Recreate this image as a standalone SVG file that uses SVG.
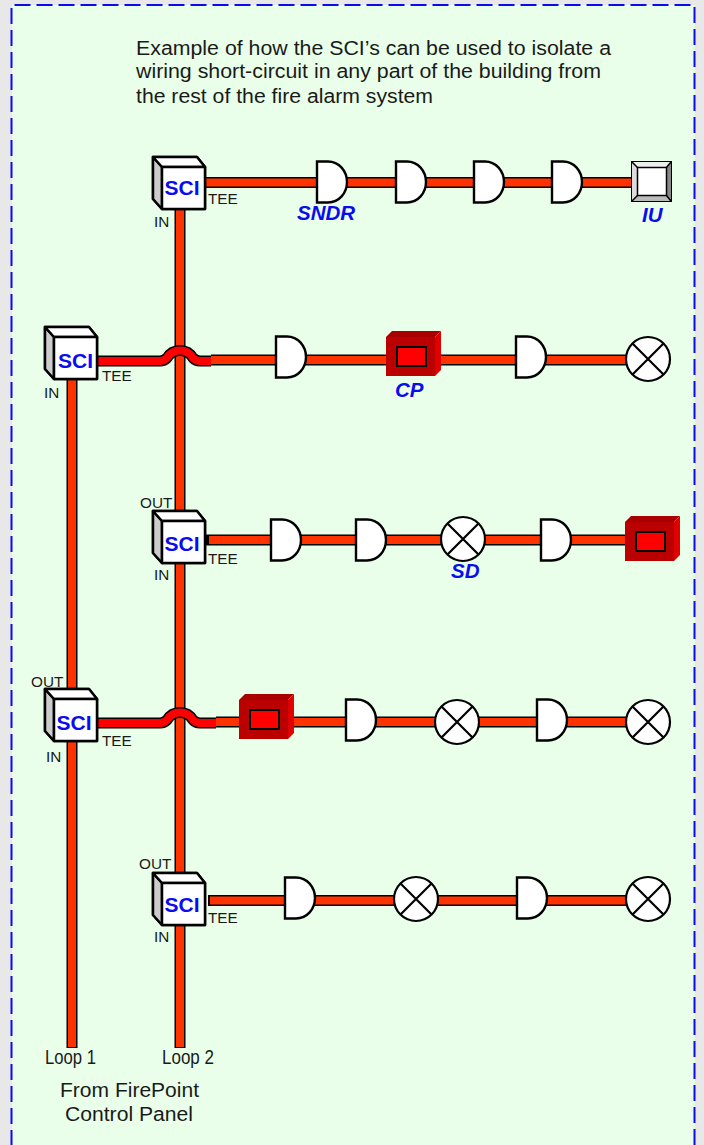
<svg xmlns="http://www.w3.org/2000/svg" xmlns:xlink="http://www.w3.org/1999/xlink" width="704" height="1145" viewBox="0 0 704 1145">
<style>
text{font-family:"Liberation Sans",Arial,sans-serif;fill:#1a1a1a}
.t{font-size:20px}
.s{font-size:15.300px}
.l{font-size:20.500px;font-style:italic;font-weight:bold;fill:#0b0bf0}
.sci{font-size:21px;font-weight:bold;fill:#0b0bf0}
.wb{fill:none;stroke:#000;stroke-width:11}
.wo{fill:none;stroke:#ff3300;stroke-width:8}
.wr{fill:none;stroke:#ff0000;stroke-width:8}
.o{stroke:#000;stroke-width:2.500;stroke-linejoin:round}
</style>
<defs>
<g id="and"><path d="M0,-20.500H11C22,-20.500 30,-11 30,0C30,11 22,20.500 11,20.500H0Z" fill="#fff" stroke="#000" stroke-width="2.400"/></g>
<g id="x"><circle r="22" fill="#fff" stroke="#000" stroke-width="2.200"/><path d="M-15.500,-15.500L15.500,15.500M-15.500,15.500L15.500,-15.500" stroke="#000" stroke-width="2.200"/></g>
<g id="box"><path class="o" d="M-9,-10H35L43,0V42H0L-9,32Z" fill="#fff"/><path class="o" d="M-9,-10L0,0V42L-9,32Z" fill="#ccc"/><path class="o" d="M-9,-10H35L43,0H0Z" fill="#fff"/><rect width="43" height="42" fill="#fff" class="o"/></g>
<g id="cp"><path d="M0,0L6,-6H55L49,0Z" fill="#a80000"/><path d="M49,0L55,-6V33L49,39Z" fill="#e00000"/><rect width="49" height="39" fill="#bb0000"/><rect x="11" y="10" width="29" height="19" fill="#ff0000" stroke="#000" stroke-width="2"/></g>
</defs>
<rect width="704" height="1145" fill="#e8e8e8"/>
<rect x="12" y="5" width="683" height="1140" fill="#e9ffe9"/>
<path d="M694.500,1145V5H11.500V1145" fill="none" stroke="#0b0bf0" stroke-width="2" stroke-dasharray="16 6"/>
<g id="title"><text class="t" x="136" y="55" textLength="475" lengthAdjust="spacingAndGlyphs">Example of how the SCI’s can be used to isolate a</text><text class="t" x="136" y="78" textLength="465" lengthAdjust="spacingAndGlyphs">wiring short-circuit in any part of the building from</text><text class="t" x="136" y="103" textLength="297" lengthAdjust="spacingAndGlyphs">the rest of the fire alarm system</text></g>
<g id="connectors">
<path class="wb" d="M72,380V1048M180,209V1048M205,182.500H640M211,360H650M206,540H630M216,722H650M208,900.500H650"/>
<path class="wo" d="M72,380V1047M180,209V1047M205,182.500H640M211,360H650M209,540H630M216,722H650M210,900.500H650"/>
<path class="wb" d="M97,361H160C163,361 165,360 167,358A15 15 0 0 1 193,358C195,360 197,361 200,361H211"/>
<path class="wr" d="M97,361H160C163,361 165,360 167,358A15 15 0 0 1 193,358C195,360 197,361 200,361H211"/>
<path class="wb" d="M97,723H160C163,723 165,722 167,720A15 15 0 0 1 193,720C195,722 197,723 200,723H216"/>
<path class="wr" d="M97,723H160C163,723 165,722 167,720A15 15 0 0 1 193,720C195,722 197,723 200,723H216"/>
</g>
<g id="sci1"><use xlink:href="#box" href="#box" x="162" y="167"/><text class="sci" x="164.500" y="195">SCI</text><text class="s" x="208" y="204">TEE</text><text class="s" x="154" y="227">IN</text></g>
<g id="sci2"><use xlink:href="#box" href="#box" x="54" y="337"/><text class="sci" x="58" y="368">SCI</text><text class="s" x="102" y="381">TEE</text><text class="s" x="44" y="398">IN</text></g>
<g id="sci3"><use xlink:href="#box" href="#box" x="162" y="521"/><text class="sci" x="164.500" y="551">SCI</text><text class="s" x="208" y="564">TEE</text><text class="s" x="154" y="580">IN</text><text class="s" x="140" y="508">OUT</text></g>
<g id="sci4"><use xlink:href="#box" href="#box" x="54" y="699"/><text class="sci" x="56.500" y="730">SCI</text><text class="s" x="102" y="746">TEE</text><text class="s" x="46" y="762">IN</text><text class="s" x="31" y="687">OUT</text></g>
<g id="sci5"><use xlink:href="#box" href="#box" x="162" y="883"/><text class="sci" x="164.500" y="912">SCI</text><text class="s" x="208" y="923">TEE</text><text class="s" x="154" y="942">IN</text><text class="s" x="139" y="869">OUT</text></g>
<g id="r1a"><use xlink:href="#and" href="#and" x="317" y="182"/></g>
<g id="r1b"><use xlink:href="#and" href="#and" x="396" y="182"/></g>
<g id="r1c"><use xlink:href="#and" href="#and" x="474" y="182"/></g>
<g id="r1d"><use xlink:href="#and" href="#and" x="552" y="182"/></g>
<g id="iu"><rect x="632" y="162" width="39" height="39" fill="#ddd" stroke="#000" stroke-width="2"/><path d="M632,162L638,168V195L632,201Z" fill="#ddd"/><path d="M671,162L666,168V195L671,201Z" fill="#888"/><path d="M632,201L638,195H666L671,201Z" fill="#bbb"/><path d="M632,162L638,168H666L671,162Z" fill="#eee"/><path d="M632,162L638,168M671,162L666,168M632,201L638,195M671,201L666,195" stroke="#000" stroke-width="1.500"/><rect x="637.500" y="167.500" width="29" height="28" fill="#fff" stroke="#000" stroke-width="1.500"/></g>
<g id="r2a"><use xlink:href="#and" href="#and" x="276" y="357"/></g>
<g id="cp1"><use xlink:href="#cp" href="#cp" x="386" y="337"/></g>
<g id="r2b"><use xlink:href="#and" href="#and" x="516" y="357"/></g>
<g id="r2c"><use xlink:href="#x" href="#x" x="648" y="359"/></g>
<g id="r3a"><use xlink:href="#and" href="#and" x="271" y="540"/></g>
<g id="r3b"><use xlink:href="#and" href="#and" x="356" y="540"/></g>
<g id="r3c"><use xlink:href="#x" href="#x" x="463" y="539"/></g>
<g id="r3d"><use xlink:href="#and" href="#and" x="541" y="540"/></g>
<g id="cp2"><use xlink:href="#cp" href="#cp" x="625" y="522"/></g>
<g id="cp3"><use xlink:href="#cp" href="#cp" x="239" y="700"/></g>
<g id="r4a"><use xlink:href="#and" href="#and" x="346" y="720"/></g>
<g id="r4b"><use xlink:href="#x" href="#x" x="457" y="722"/></g>
<g id="r4c"><use xlink:href="#and" href="#and" x="537" y="720"/></g>
<g id="r4d"><use xlink:href="#x" href="#x" x="648" y="722"/></g>
<g id="r5a"><use xlink:href="#and" href="#and" x="285" y="898"/></g>
<g id="r5b"><use xlink:href="#x" href="#x" x="416" y="899"/></g>
<g id="r5c"><use xlink:href="#and" href="#and" x="517" y="898"/></g>
<g id="r5d"><use xlink:href="#x" href="#x" x="648" y="899"/></g>
<g id="labels">
<text class="l" x="297" y="220">SNDR</text><text class="l" x="642" y="222">IU</text><text class="l" x="395" y="397">CP</text><text class="l" x="451" y="578">SD</text>
<text class="t" x="45" y="1064" textLength="51" lengthAdjust="spacingAndGlyphs">Loop 1</text>
<text class="t" x="162" y="1064" textLength="52" lengthAdjust="spacingAndGlyphs">Loop 2</text>
<text class="t" x="60" y="1097" textLength="139" lengthAdjust="spacingAndGlyphs">From FirePoint</text>
<text class="t" x="65" y="1121" textLength="128" lengthAdjust="spacingAndGlyphs">Control Panel</text>
</g>
</svg>
